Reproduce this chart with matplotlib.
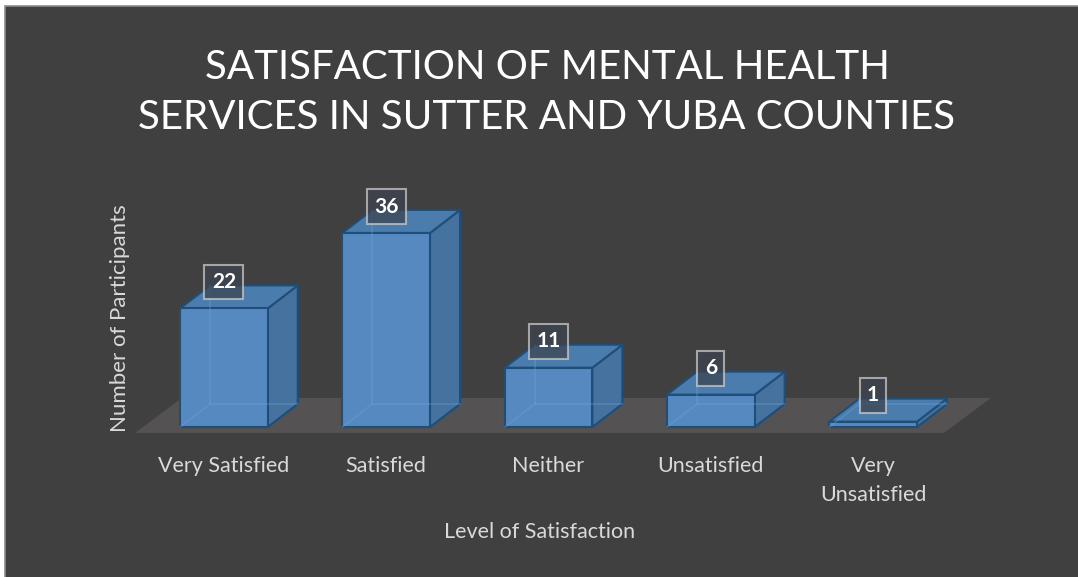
import matplotlib
matplotlib.use("Agg")
import matplotlib.pyplot as plt
from matplotlib.patches import Polygon, Rectangle

# Chart data
categories = ["Very Satisfied", "Satisfied", "Neither", "Unsatisfied", "Very\nUnsatisfied"]
participants = [22, 36, 11, 6, 1]
title = "SATISFACTION OF MENTAL HEALTH\nSERVICES IN SUTTER AND YUBA COUNTIES"

# Style
bg = "#404040"
front_col = "#5689c0"
side_col = "#45729f"
top_col = "#4b7cae"
edge_col = "#1f4e79"
text_col = "#d9d9d9"
bar_w = 0.54
dx, dy = 0.185, 4.27   # depth offset (category units, value units)

plt.rcParams["font.family"] = ["Lato", "DejaVu Sans"]

fig = plt.figure(figsize=(10.78, 5.77), dpi=100)
fig.patch.set_facecolor("white")
fig.add_artist(Rectangle((5 / 1078, -0.05), 1.05, 1.05 - 6 / 577, transform=fig.transFigure,
                         facecolor=bg, edgecolor="#8c8c8c", linewidth=1.2, zorder=0))

ax = fig.add_axes([0.1324, 0.2412, 0.7528, 0.3924])
ax.set_xlim(-0.5, 4.5)
ax.set_ylim(-2, 40)
ax.patch.set_visible(False)
for s in ax.spines.values():
    s.set_visible(False)

# floor
fl, fr, fb, ft, fs = -0.548, 4.437, -1.1, 5.4, 0.289
ax.add_patch(Polygon([(fl, fb), (fr, fb), (fr + fs, ft), (fl + fs, ft)], closed=True,
                     facecolor="#545252", edgecolor="none", zorder=1, clip_on=False))

for i, v in enumerate(participants):
    x0, x1 = i - bar_w / 2, i + bar_w / 2
    top = [(x0, v), (x1, v), (x1 + dx, v + dy), (x0 + dx, v + dy)]
    side = [(x1, 0), (x1 + dx, dy), (x1 + dx, v + dy), (x1, v)]
    front = [(x0, 0), (x1, 0), (x1, v), (x0, v)]
    for pts, col in ((side, side_col), (top, top_col), (front, front_col)):
        ax.add_patch(Polygon(pts, closed=True, facecolor=col, edgecolor=edge_col,
                             linewidth=1.5, joinstyle="round", zorder=2 + i, clip_on=False))
    # faint hidden back edges seen through the bar
    ax.plot([x0, x0 + dx, x1 + dx], [0, dy, dy], color="#6ea4dc", alpha=0.35, lw=1.2,
            zorder=2 + i, clip_on=False)
    ax.plot([x0 + dx, x0 + dx], [dy, v + dy], color="#6ea4dc", alpha=0.35, lw=1.2,
            zorder=2 + i, clip_on=False)
    ax.text(i, v + 4.9, str(v), ha="center", va="center", color="white", fontsize=15,
            fontweight="bold", zorder=20,
            bbox=dict(boxstyle="square,pad=0.35", facecolor="#3c4450", alpha=0.75,
                      edgecolor="#c8c8c8", linewidth=1.5))

ax.set_xticks(range(len(categories)), categories)
ax.set_yticks([])
ax.tick_params(axis="x", length=0, pad=13, labelsize=15.5, labelcolor=text_col)
for lbl in ax.get_xticklabels():
    lbl.set_linespacing(1.6)

ax.set_xlabel("Level of Satisfaction", fontsize=15.5, color=text_col)
ax.xaxis.set_label_coords(0.4895, -0.37)
ax.set_ylabel("Number of Participants", fontsize=16, color=text_col)
ax.yaxis.set_label_coords(-0.016, 0.53)

fig.text(547 / 1078, 0.84, title, ha="center", va="center", color="white",
         fontsize=29, linespacing=1.44)

fig.savefig("out.png", dpi=100, facecolor=fig.get_facecolor())
